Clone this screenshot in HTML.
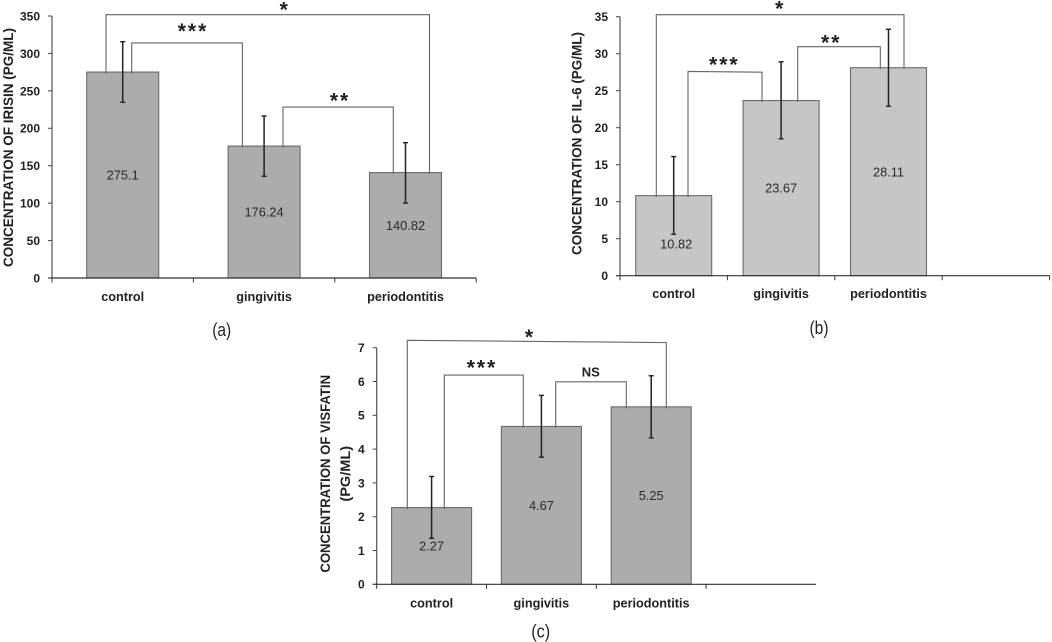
<!DOCTYPE html>
<html>
<head>
<meta charset="utf-8">
<title>Concentrations of irisin, IL-6 and visfatin</title>
<style>
html,body{margin:0;padding:0;background:#fff;width:1052px;height:642px;overflow:hidden}
svg{display:block;filter:blur(0.3px)}
text{font-family:"Liberation Sans",sans-serif}
</style>
</head>
<body>
<svg id="figure" width="1052" height="642" viewBox="0 0 1052 642" xmlns="http://www.w3.org/2000/svg"></svg>
<script>
const categories = ['control', 'gingivitis', 'periodontitis'];

const irisinValues = [275.1, 176.24, 140.82];
const irisinErrLow = [234.7, 135.8, 100.2];
const irisinErrHigh = [315.7, 216.4, 180.8];
const irisinTicks = [0, 50, 100, 150, 200, 250, 300, 350];

const il6Values = [10.82, 23.67, 28.11];
const il6ErrLow = [5.6, 18.5, 22.9];
const il6ErrHigh = [16.1, 28.9, 33.3];
const il6Ticks = [0, 5, 10, 15, 20, 25, 30, 35];

const visfatinValues = [2.27, 4.67, 5.25];
const visfatinErrLow = [1.36, 3.76, 4.33];
const visfatinErrHigh = [3.19, 5.59, 6.17];
const visfatinTicks = [0, 1, 2, 3, 4, 5, 6, 7];

const svg = document.getElementById('figure');
const NS = 'http://www.w3.org/2000/svg';

function make(tag, attrs, parent, txt) {
  const e = document.createElementNS(NS, tag);
  for (const k in attrs) e.setAttribute(k, attrs[k]);
  if (txt !== undefined) e.textContent = txt;
  parent.appendChild(e);
  return e;
}

function drawChart(c) {
  const g = make('g', {}, svg);
  
  

  const maxV = c.ticks[c.ticks.length - 1];
  const y = v => c.y0 - (v / maxV) * (c.y0 - c.yTop);
  const cx = i => c.x0 + (i + 0.5) * c.cw;
  const catX = u => c.x0 + u * c.cw;

  // bars
  c.values.forEach((v, i) => {
    const bar = make('rect', {
      x: cx(i) - c.bw / 2, y: y(v), width: c.bw, height: c.y0 - y(v),
      fill: c.fill, stroke: '#6a6a6a', 'stroke-width': 1.1
    }, g);
    
    
  });

  // axes
  const yAxis = make('line', {x1: c.x0, y1: c.yTop, x2: c.x0, y2: c.y0, stroke: '#555', 'stroke-width': 1.2}, g);
  
  
  const xAxis = make('line', {x1: c.x0 - 4, y1: c.y0, x2: c.xEnd, y2: c.y0, stroke: '#333', 'stroke-width': 1.2}, g);
  
  

  // y ticks
  c.ticks.forEach(t => {
    const tick = make('line', {x1: c.x0 - 4, y1: y(t), x2: c.x0, y2: y(t), stroke: '#444', 'stroke-width': 1}, g);
    
    
    const lab = make('text', {x: c.x0 - 12, y: y(t) + 4.4, 'text-anchor': 'end', 'font-size': 12, 'font-weight': 700, fill: '#222'}, g, t);
    
    
  });

  // x ticks
  for (let i = 0; i <= c.nTicks; i++) {
    const tick = make('line', {x1: catX(i), y1: c.y0, x2: catX(i), y2: c.y0 + 4.5, stroke: '#333', 'stroke-width': 1}, g);
    
    
  }

  // category labels
  categories.forEach((name, i) => {
    const lab = make('text', {x: cx(i), y: c.y0 + c.catDy, 'text-anchor': 'middle', 'font-size': 12.7, 'font-weight': 700, fill: '#222'}, g, name);
    
    
  });

  // brackets
  c.brackets.forEach(b => {
    const xL = cx(b.from) + b.dxL, xR = cx(b.to) + b.dxR;
    const footL = y(c.values[b.from]) + 1.5, footR = y(c.values[b.to]) + 1.5;
    const path = make('polyline', {
      points: [xL, footL, xL, y(b.topL), xR, y(b.topR), xR, footR].join(' '),
      fill: 'none', stroke: '#666', 'stroke-width': 1.1
    }, g);
    
    
    const isStar = b.label !== 'NS';
    const ly = y(b.topL) - b.labelDy;
    const sig = make('text', {
      x: catX(b.lx) + (isStar ? 1 : 0), y: isStar ? ly + 10 : ly + 4.5, 'text-anchor': 'middle',
      'font-size': isStar ? 21 : 13, 'font-weight': 700, fill: '#222',
      'letter-spacing': isStar ? 2 : 0
    }, g, b.label);
    
    
  });

  // error bars
  c.values.forEach((v, i) => {
    const x = cx(i);
    const whisker = make('line', {x1: x, y1: y(c.errHigh[i]), x2: x, y2: y(c.errLow[i]), stroke: '#222', 'stroke-width': 1.5}, g);
    
    
    [c.errHigh[i], c.errLow[i]].forEach(e => {
      const cap = make('line', {x1: x - 2.5, y1: y(e), x2: x + 2.5, y2: y(e), stroke: '#222', 'stroke-width': 1.4}, g);
      
      
    });
  });

  // value labels
  c.values.forEach((v, i) => {
    const off = c.labelNudge && c.labelNudge.index === i ? c.labelNudge : {dx: 0, dy: 0};
    const lab = make('text', {
      x: cx(i) + off.dx, y: y(v / 2) + 4.6 + off.dy, 'text-anchor': 'middle',
      'font-size': 12.8, fill: '#2a2a2a'
    }, g, v);
    
    
  });

  // axis title
  c.titleLines.forEach(t => {
    const title = make('text', {
      transform: 'translate(' + t.x + ',' + t.cy + ') rotate(-90)',
      'text-anchor': 'middle', 'font-size': 13.6, 'font-weight': 700, fill: '#222',
      textLength: t.len, lengthAdjust: 'spacingAndGlyphs'
    }, g, t.text);
    
    
  });

  // panel letter
  const panel = make('text', {
    x: c.panelX, y: c.panelY, 'text-anchor': 'middle', 'font-size': 18, fill: '#222',
    textLength: 19, lengthAdjust: 'spacingAndGlyphs'
  }, g, c.panel);
  
  
}

drawChart({
  name: 'irisin-chart', values: irisinValues, errLow: irisinErrLow, errHigh: irisinErrHigh, ticks: irisinTicks,
  x0: 52, cw: 141.4, bw: 72, y0: 278, yTop: 16, xEnd: 476, nTicks: 3, catDy: 23, fill: '#acacac',
  titleLines: [{text: 'CONCENTRATION OF IRISIN (PG/ML)', x: 13, cy: 147.5, len: 239}],
  panel: '(a)', panelX: 221.7, panelY: 336,
  brackets: [
    {from: 0, to: 2, dxL: -16.7, dxR: 24, topL: 351.7, topR: 351.7, label: '*', lx: 1.639, labelDy: 8},
    {from: 0, to: 1, dxL: 9, dxR: -21.7, topL: 314, topR: 314, label: '***', lx: 0.99, labelDy: 15},
    {from: 1, to: 2, dxL: 18.9, dxR: -12.2, topL: 228.4, topR: 228.4, label: '**', lx: 2.03, labelDy: 9.3}
  ]
});

drawChart({
  name: 'il6-chart', values: il6Values, errLow: il6ErrLow, errHigh: il6ErrHigh, ticks: il6Ticks,
  x0: 620, cw: 107.4, bw: 76, y0: 275.7, yTop: 16.7, xEnd: 1049.7, nTicks: 4, catDy: 22.5, fill: '#c6c6c6',
  labelNudge: {index: 0, dx: 2.5, dy: 8},
  titleLines: [{text: 'CONCENTRATION OF IL-6 (PG/ML)', x: 581.5, cy: 143.5, len: 223}],
  panel: '(b)', panelX: 819, panelY: 334,
  brackets: [
    {from: 0, to: 2, dxL: -17.4, dxR: 15.5, topL: 35.27, topR: 35.27, label: '*', lx: 1.483, labelDy: 9},
    {from: 0, to: 1, dxL: 14.3, dxR: -19.1, topL: 27.6, topR: 27.5, label: '***', lx: 0.962, labelDy: 10},
    {from: 1, to: 2, dxL: 16.6, dxR: -8.2, topL: 30.95, topR: 30.95, label: '**', lx: 1.958, labelDy: 7.4}
  ]
});

drawChart({
  name: 'visfatin-chart', values: visfatinValues, errLow: visfatinErrLow, errHigh: visfatinErrHigh, ticks: visfatinTicks,
  x0: 376.7, cw: 109.8, bw: 80, y0: 584.3, yTop: 347.7, xEnd: 816, nTicks: 3, catDy: 23, fill: '#acacac',
  titleLines: [
    {text: 'CONCENTRATION OF VISFATIN', x: 330, cy: 473.8, len: 197.7},
    {text: '(PG/ML)', x: 350, cy: 473.8, len: 55.7}
  ],
  panel: '(c)', panelX: 540.7, panelY: 637.5,
  brackets: [
    {from: 0, to: 2, dxL: -24.3, dxR: 15.1, topL: 7.22, topR: 7.15, label: '*', lx: 1.387, labelDy: 6.3},
    {from: 0, to: 1, dxL: 12.7, dxR: -18.1, topL: 6.19, topR: 6.19, label: '***', lx: 0.95, labelDy: 10.7},
    {from: 1, to: 2, dxL: 14.3, dxR: -24.9, topL: 5.99, topR: 5.99, label: 'NS', lx: 1.95, labelDy: 10}
  ]
});
</script>
</body>
</html>
